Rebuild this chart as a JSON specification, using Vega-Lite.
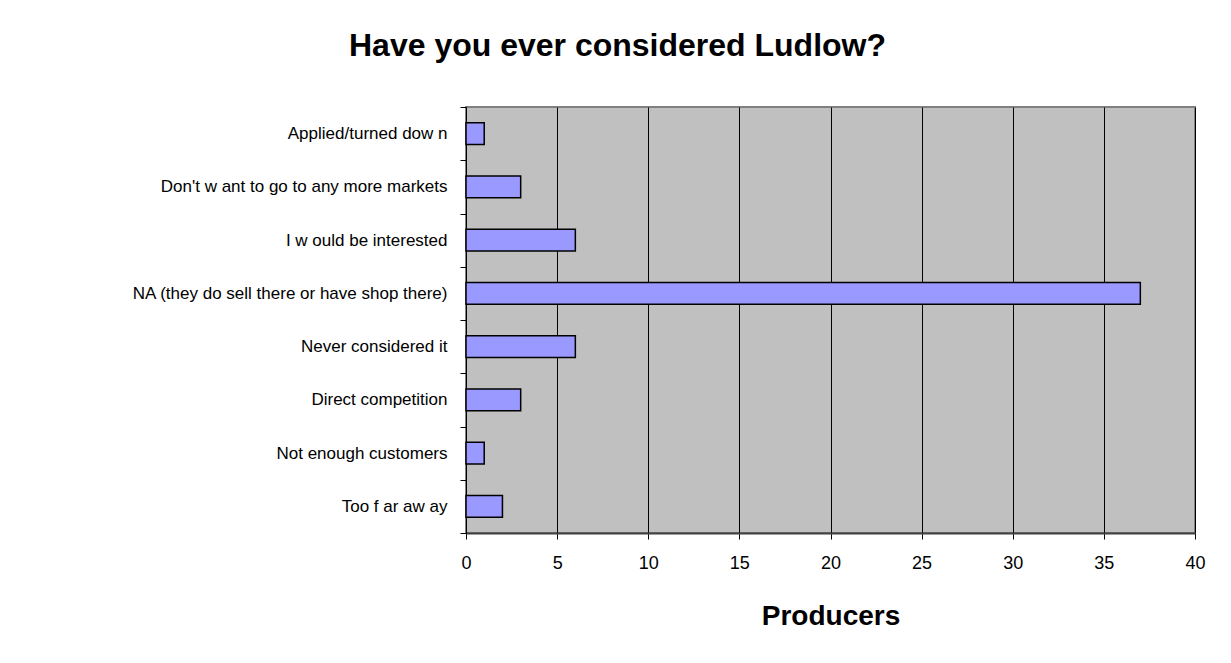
{
  "$schema": "https://vega.github.io/schema/vega-lite/v6.json",
  "autosize": "none",
  "width": 729,
  "height": 426,
  "padding": {"left": 466, "top": 107, "right": 36, "bottom": 130},
  "background": "white",
  "title": {
    "text": "Have you ever considered Ludlow?",
    "font": "Liberation Sans",
    "fontSize": 32,
    "fontWeight": "bold",
    "color": "black",
    "anchor": "middle",
    "dx": -213,
    "offset": 35
  },
  "data": {
    "values": [
      {"reason": "Applied/turned dow n", "producers": 1},
      {"reason": "Don't w ant to go to any more markets", "producers": 3},
      {"reason": "I w ould be interested", "producers": 6},
      {"reason": "NA (they do sell there or have shop there)", "producers": 37},
      {"reason": "Never considered it ", "producers": 6},
      {"reason": "Direct competition", "producers": 3},
      {"reason": "Not enough customers", "producers": 1},
      {"reason": "Too f ar aw ay", "producers": 2}
    ]
  },
  "mark": {"type": "bar", "color": "#9999FF", "stroke": "black", "strokeWidth": 1.5, "height": {"band": 0.41}},
  "encoding": {
    "y": {
      "field": "reason",
      "type": "nominal",
      "sort": null,
      "scale": {"paddingInner": 0, "paddingOuter": 0},
      "axis": {
        "title": null,
        "tickBand": "extent",
        "tickSize": 6,
        "tickColor": "black",
        "domainColor": "black",
        "labelFont": "Liberation Sans",
        "labelFontSize": 17,
        "labelColor": "black",
        "labelPadding": 13,
        "labelLimit": 460
      }
    },
    "x": {
      "field": "producers",
      "type": "quantitative",
      "scale": {"domain": [0, 40], "nice": false},
      "axis": {
        "values": [0, 5, 10, 15, 20, 25, 30, 35, 40],
        "title": "Producers",
        "titleFont": "Liberation Sans",
        "titleFontSize": 28,
        "titleFontWeight": "bold",
        "titleColor": "black",
        "titlePadding": 30,
        "grid": true,
        "gridColor": "black",
        "gridOpacity": 1,
        "gridWidth": 1,
        "tickSize": 6,
        "tickColor": "black",
        "domainColor": "#404040",
        "domainWidth": 2,
        "labelFont": "Liberation Sans",
        "labelFontSize": 18,
        "labelColor": "black",
        "labelPadding": 15,
        "labelFlush": false
      }
    }
  },
  "config": {
    "view": {"fill": "#C0C0C0", "stroke": "#808080", "strokeWidth": 2}
  }
}
